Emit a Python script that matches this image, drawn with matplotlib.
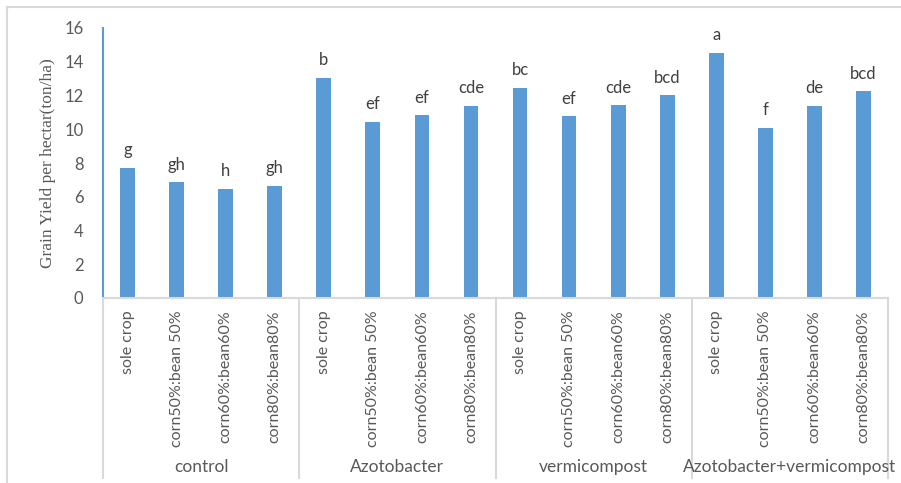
import numpy as np
import matplotlib
import matplotlib.pyplot as plt
from matplotlib.lines import Line2D

matplotlib.rc('font', family='Lato', size=10)

groups = ['control', 'Azotobacter', 'vermicompost', 'Azotobacter+vermicompost']
ratios = ['sole crop', 'corn50%:bean 50%', 'corn60%:bean60%', 'corn80%:bean80%']

yields = [7.72, 6.85, 6.48, 6.64,
          13.06, 10.45, 10.82, 11.38,
          12.46, 10.77, 11.42, 12.01,
          14.52, 10.07, 11.38, 12.25]
letters = ['g', 'gh', 'h', 'gh',
           'b', 'ef', 'ef', 'cde',
           'bc', 'ef', 'cde', 'bcd',
           'a', 'f', 'de', 'bcd']

BLUE = '#5B9BD5'
GRID = '#D9D9D9'
TXT = '#595959'

W, H = 901, 483
fig = plt.figure(figsize=(W / 100, H / 100), dpi=100)

# outer chart frame
fig.add_artist(Line2D([7 / W, 1], [1 - 7 / H, 1 - 7 / H], color=GRID, lw=1.5))
fig.add_artist(Line2D([7 / W, 7 / W], [0, 1 - 7 / H], color=GRID, lw=1.5))

x0, x1, ytop, ybot = 103, 888, 28, 298
ax = fig.add_axes([x0 / W, 1 - ybot / H, (x1 - x0) / W, (ybot - ytop) / H])

x = np.arange(len(yields))
ax.bar(x, yields, width=0.3, color=BLUE, zorder=2)
for xi, v, s in zip(x, yields, letters):
    ax.annotate(s, (xi, v), xytext=(0, 7), textcoords='offset points',
                ha='center', va='bottom', color='#404040', fontsize=12)

ax.set_xlim(-0.5, len(yields) - 0.5)
ax.set_ylim(0, 16)
ax.set_yticks(range(0, 17, 2))
ax.tick_params(axis='y', length=0, pad=14, labelcolor=TXT, labelsize=12)
ax.set_ylabel('Grain Yield per hectar(ton/ha)', family='Liberation Serif',
              fontsize=12.5, color=TXT, labelpad=6)

for side in ['top', 'right']:
    ax.spines[side].set_visible(False)
ax.spines['left'].set_color(BLUE)
ax.spines['left'].set_linewidth(1.5)
ax.spines['bottom'].set_color(GRID)
ax.spines['bottom'].set_linewidth(1.5)

ax.set_xticks(x)
ax.set_xticklabels(ratios * len(groups), rotation=90, color=TXT, fontsize=11.5)
ax.tick_params(axis='x', length=0, pad=9)

# group separators and group names under the category labels
trans = ax.get_xaxis_transform()
sep_bottom = -(478 - ybot) / (ybot - ytop)
for i in range(len(groups) + 1):
    xs = i * len(ratios) - 0.5
    ax.plot([xs, xs], [0, sep_bottom], color=GRID, lw=1.5,
            transform=trans, clip_on=False)
for i, g in enumerate(groups):
    ax.text(i * len(ratios) + 1.5, -(467 - ybot) / (ybot - ytop), g,
            transform=trans, ha='center', va='center', color=TXT, fontsize=12.5)

fig.savefig('out.png', dpi=100, facecolor='white')
